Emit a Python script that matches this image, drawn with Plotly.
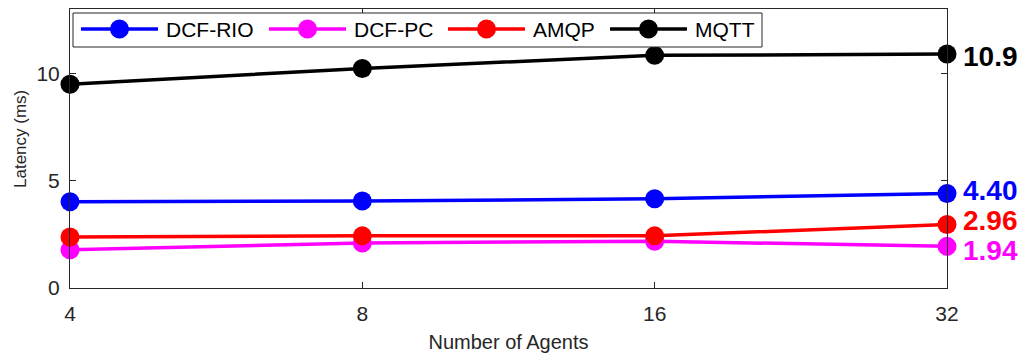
import math
import plotly.graph_objects as go

agents = [4, 8, 16, 32]
dcf_rio = [4.02, 4.05, 4.16, 4.40]
dcf_pc = [1.78, 2.10, 2.18, 1.94]
amqp = [2.38, 2.43, 2.43, 2.96]
mqtt = [9.49, 10.23, 10.84, 10.9]
series_names = ["DCF-RIO", "DCF-PC", "AMQP", "MQTT"]
series_vals = [dcf_rio, dcf_pc, amqp, mqtt]
colors = ["#0000FF", "#FF00FF", "#FF0000", "#000000"]
end_labels = ["4.40", "1.94", "2.96", "10.9"]
label_yshift = [3, -4, 4, -2]
y_ticks = [0, 5, 10]
x_ticks = [4, 8, 16, 32]

FONT = "Liberation Sans, Arial, Helvetica, sans-serif"
AX = "#262626"

# page body has an 8px margin; compensate so the plot lands where intended
W, H = 1018, 350
ML, MR, MT, MB = 62, 79, 1, 70
PW = W - ML - MR
PH = H - MT - MB

fig = go.Figure()
for name, vals, c in zip(series_names, series_vals, colors):
    fig.add_trace(go.Scatter(
        x=agents, y=vals, name=name, mode="lines+markers",
        line=dict(color=c, width=3.5),
        marker=dict(color=c, size=19),
        cliponaxis=False, showlegend=False,
    ))

for vals, c, lab, ys in zip(series_vals, colors, end_labels, label_yshift):
    fig.add_annotation(
        x=math.log10(agents[-1]), y=vals[-1], text=f"<b>{lab}</b>", showarrow=False,
        xref="x", yref="y", xanchor="left", yanchor="middle", xshift=14, yshift=ys,
        font=dict(family=FONT, size=28, color=c),
    )

# custom legend (layout positions in pixels relative to plot area left/top)
def px_x(p):
    return p / PW

def px_y(p):
    return 1 - p / PH

leg_left, leg_right, leg_top, leg_bot = 3, 692, 4, 38
leg_cy = 20
item_starts = [11, 199, 378, 540]
seg_len = 77
fig.add_shape(type="rect", xref="paper", yref="paper",
              x0=px_x(leg_left), x1=px_x(leg_right), y0=px_y(leg_bot), y1=px_y(leg_top),
              line=dict(color=AX, width=1), fillcolor="white", layer="above")
for name, c, s in zip(series_names, colors, item_starts):
    fig.add_shape(type="line", xref="paper", yref="paper",
                  x0=px_x(s), x1=px_x(s + seg_len), y0=px_y(leg_cy), y1=px_y(leg_cy),
                  line=dict(color=c, width=3.5), layer="above")
    fig.add_shape(type="circle", xref="paper", yref="paper",
                  xsizemode="pixel", ysizemode="pixel",
                  xanchor=px_x(s + seg_len / 2), yanchor=px_y(leg_cy),
                  x0=-9.5, x1=9.5, y0=-9.5, y1=9.5,
                  line=dict(color=c, width=0), fillcolor=c, layer="above")
    fig.add_annotation(x=px_x(s + seg_len + 6), y=px_y(leg_cy), xref="paper", yref="paper",
                       text=name, showarrow=False, xanchor="left", yanchor="middle",
                       font=dict(family=FONT, size=21, color="black"))

# y-axis title placed as rotated text
fig.add_annotation(x=0, y=px_y(130), xref="paper", yref="paper", xshift=-50,
                   text="Latency (ms)", textangle=-90, showarrow=False,
                   xanchor="center", yanchor="middle",
                   font=dict(family=FONT, size=17, color=AX))

axis_common = dict(
    showgrid=False, zeroline=False, showline=True, mirror="ticks",
    linecolor=AX, linewidth=1, ticks="inside", ticklen=6,
    tickcolor=AX, tickfont=dict(family=FONT, size=21, color=AX),
)

eps = 1e-6
fig.update_layout(
    width=W, height=H,
    margin=dict(l=ML, r=MR, t=MT, b=MB, autoexpand=False),
    plot_bgcolor="white", paper_bgcolor="white",
    xaxis=dict(type="log", range=[math.log10(4) - eps, math.log10(32) + eps], tickvals=x_ticks,
               ticktext=[str(v) for v in x_ticks], ticklabelstandoff=7,
               title=dict(text="Number of Agents", standoff=10,
                          font=dict(family=FONT, size=20, color=AX)),
               **axis_common),
    yaxis=dict(range=[0, 13], tickvals=y_ticks, ticklabelstandoff=5,
               **axis_common),
    showlegend=False,
)

fig.write_html("out.html")
